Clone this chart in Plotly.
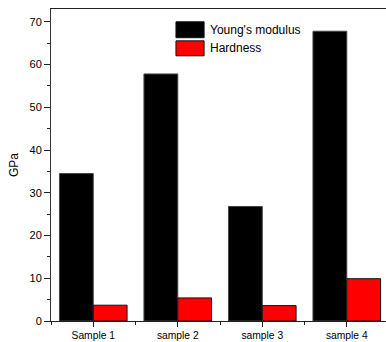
import plotly.graph_objects as go

samples = ["Sample 1", "sample 2", "sample 3", "sample 4"]
youngs_modulus = [34.5, 57.8, 26.8, 67.8]
hardness = [3.7, 5.4, 3.6, 9.9]
series_names = ["Young's modulus", "Hardness"]
series_colors = ["#000000", "#ff0000"]

x_pos = list(range(len(samples)))
FONT = "Liberation Sans, Arial, sans-serif"

fig = go.Figure()
fig.add_trace(go.Bar(
    x=x_pos, y=youngs_modulus, name=series_names[0],
    marker=dict(color=series_colors[0], line=dict(color="#444444", width=1)),
    showlegend=False,
))
fig.add_trace(go.Bar(
    x=x_pos, y=hardness, name=series_names[1],
    marker=dict(color=series_colors[1], line=dict(color="#111111", width=1)),
    showlegend=False,
))

# hand-drawn legend: wide swatches with labels to their right
swatch_rows = [(0.959, 0.908, 0.932), (0.898, 0.850, 0.876)]
for (y1, y0, ytxt), name, col in zip(swatch_rows, series_names, series_colors):
    fig.add_shape(type="rect", xref="paper", yref="paper",
                  x0=0.373, x1=0.457, y0=y0, y1=y1,
                  fillcolor=col, line=dict(color="#111111", width=1))
    fig.add_annotation(xref="paper", yref="paper", x=0.469, y=ytxt,
                       text=name, showarrow=False, xanchor="left", yanchor="middle",
                       font=dict(family=FONT, size=12, color="#000000"))

fig.update_layout(
    width=386, height=342,
    margin=dict(l=51, r=0, t=9, b=21),
    paper_bgcolor="white", plot_bgcolor="white",
    barmode="group", bargap=0.2, bargroupgap=0,
    font=dict(family=FONT, size=11, color="#000000"),
)

fig.update_xaxes(
    range=[-0.5, 3.464],
    tickmode="array", tickvals=x_pos, ticktext=samples,
    ticks="outside", ticklen=5, tickwidth=1, tickcolor="#222222",
    minor=dict(tickmode="array", tickvals=[-0.5, 0.5, 1.5, 2.5],
               ticks="outside", ticklen=3, tickcolor="#222222"),
    showline=True, linecolor="#222222", linewidth=1, mirror=True,
    showgrid=False, zeroline=False,
    tickfont=dict(family=FONT, size=10.3),
)

fig.update_yaxes(
    range=[0, 73], dtick=10, tick0=0,
    ticks="outside", ticklen=6, tickwidth=1, tickcolor="#222222",
    minor=dict(dtick=5, ticks="outside", ticklen=3, tickcolor="#222222"),
    showline=True, linecolor="#333333", linewidth=1,
    showgrid=False, zeroline=False,
    title=dict(text="GPa", font=dict(family=FONT, size=12), standoff=8),
    tickfont=dict(family=FONT, size=11),
)

fig.write_html("out.html")
